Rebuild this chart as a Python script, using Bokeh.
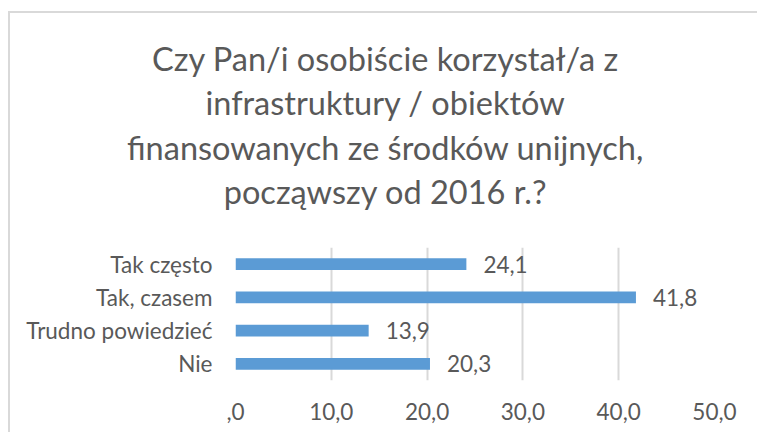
from bokeh.plotting import figure
from bokeh.layouts import column
from bokeh.models import FactorRange, Range1d, FixedTicker, ColumnDataSource
from bokeh.core.properties import value
from bokeh.embed import file_html
from bokeh.resources import INLINE

categories = ["Nie", "Trudno powiedzieć", "Tak, czasem", "Tak często"]
values = [20.3, 13.9, 41.8, 24.1]
value_labels = ["20,3", "13,9", "41,8", "24,1"]
xtick_values = [0, 10, 20, 30, 40, 50]
xtick_labels = [",0", "10,0", "20,0", "30,0", "40,0", "50,0"]
title_lines = [
    "Czy Pan/i osobiście korzystał/a z",
    "infrastruktury / obiektów",
    "finansowanych ze środków unijnych,",
    "począwszy od 2016 r.?",
]

FONT = "Lato"
TXT = "#595959"
GRID = "#d9d9d9"
W = 747
TH = 215   # title area height
MH = 204   # chart area height

# --- title area ---
t = figure(width=W, height=TH, x_range=Range1d(0, W), y_range=Range1d(TH, 0),
           output_backend="svg", toolbar_location=None,
           min_border=0, x_axis_type=None, y_axis_type=None)
t.title_location = None
t.outline_line_color = None
t.xgrid.visible = False
t.ygrid.visible = False
tsrc = ColumnDataSource(dict(x=[375] * 4, y=[45, 89, 134, 178], text=title_lines))
t.text(x="x", y="y", text="text", source=tsrc, text_align="center", text_baseline="alphabetic",
       text_font=value(FONT), text_font_size="32.5px", text_color=TXT)

# --- chart area ---
p = figure(width=W, height=MH, y_range=FactorRange(*categories, range_padding=0),
           x_range=Range1d(0, 50), output_backend="svg", toolbar_location=None,
           min_border_left=225, min_border_right=43, min_border_top=19, min_border_bottom=52)
p.title_location = None
p.outline_line_color = None

src = ColumnDataSource(dict(cat=categories, val=values, lab=value_labels))
p.hbar(y="cat", right="val", left=0, height=0.36, source=src, color="#5B9BD5", line_color=None)
p.text(x="val", y="cat", text="lab", source=src, x_offset=17, text_baseline="middle",
       text_align="left", text_font=value(FONT), text_font_size="22.5px", text_color=TXT)

p.xaxis.ticker = FixedTicker(ticks=xtick_values)
p.xaxis.major_label_overrides = {v: l for v, l in zip(xtick_values, xtick_labels)}
for ax in (p.xaxis[0], p.yaxis[0]):
    ax.axis_line_color = None
    ax.major_tick_line_color = None
    ax.minor_tick_line_color = None
    ax.major_tick_out = 0
    ax.major_tick_in = 0
    ax.major_label_text_font = FONT
    ax.major_label_text_font_size = "22.5px"
    ax.major_label_text_color = TXT
p.xaxis.major_label_standoff = 22
p.yaxis.major_label_standoff = 23

p.xgrid.grid_line_color = GRID
p.xgrid.grid_line_width = 2
p.ygrid.grid_line_color = None

for fig in (t, p):
    fig.frame_align = False

layout = column(t, p, spacing=0,
                styles={"border-left": "2px solid " + GRID, "border-top": "2px solid " + GRID,
                        "margin-top": "11px", "margin-left": "8px"})

open("out.html", "w").write(file_html(layout, INLINE))
